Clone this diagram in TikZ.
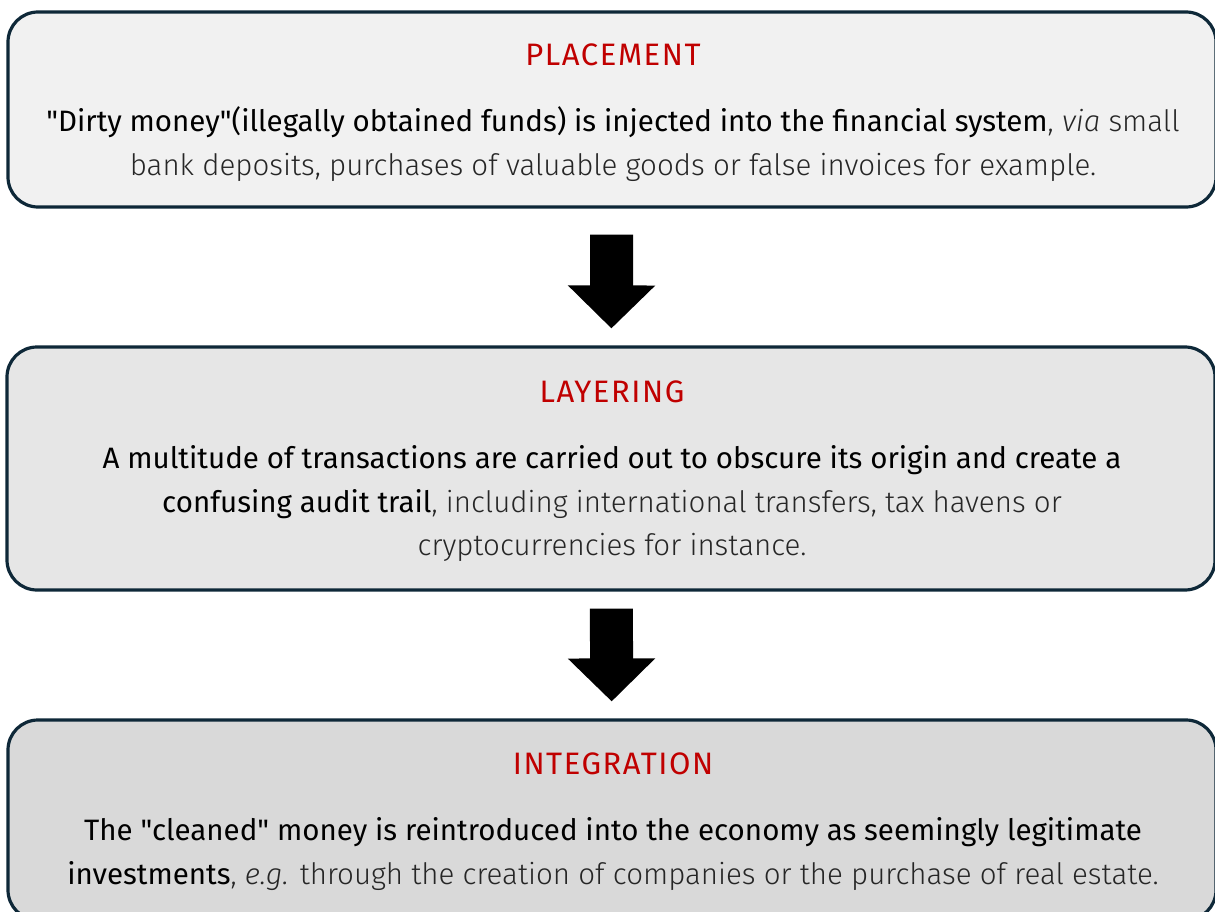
\documentclass[tikz,border=0pt]{standalone}
\usepackage{fontspec}
\setmainfont{Fira Sans Light}[ItalicFont={Fira Sans Light Italic}, BoldFont={Fira Sans}, Ligatures=TeXOff]
\newfontfamily\titlefont{Fira Sans}[LetterSpace=5, Ligatures=TeXOff]
\usetikzlibrary{arrows.meta}

\definecolor{navy}{HTML}{0E2838}
\definecolor{stagered}{HTML}{C00000}
\definecolor{bodygrey}{HTML}{262626}
\definecolor{fillA}{HTML}{F1F1F1}
\definecolor{fillB}{HTML}{E6E6E6}
\definecolor{fillC}{HTML}{D9D9D9}
\newcommand{\keytext}[1]{{\color{black}\bfseries #1}}

\begin{document}
\begin{tikzpicture}[x=1pt,y=-1pt,
    stage/.style={draw=navy,line width=3.2pt,rounded corners=30pt,minimum width=1208pt},
    title/.style={anchor=base,text=stagered,font=\titlefont\fontsize{31}{36}\selectfont},
    body/.style={align=center,text=bodygrey,font=\fontsize{29.5}{43.5}\selectfont},
    bigarrow/.style={line width=43pt,-{Triangle[length=43pt,width=85pt]}}]
    \useasboundingbox (0,0) rectangle (1215,912);
    % the three stages
    \node[stage,fill=fillA,minimum height=195pt] (placement) at (612,109.5) {};
    \node[stage,fill=fillB,minimum height=243pt] (layering) at (611,468.5) {};
    \node[stage,fill=fillC,minimum height=200pt] (integration) at (612,820) {};
    \node[title] (placementtitle) at (613,66) {PLACEMENT};
    \node[title] (layeringtitle) at (612,402) {LAYERING};
    \node[title] (integrationtitle) at (613,774) {INTEGRATION};
    \node[body] (placementtext) at (613,144) {\keytext{"Dirty money"(illegally obtained funds) is injected into the financial system}, \textit{via} small\\bank deposits, purchases of valuable goods or false invoices for example.};
    \node[body] (layeringtext) at (612,504) {\keytext{A multitude of transactions are carried out to obscure its origin and create a}\\\keytext{confusing audit trail}, including international transfers, tax havens or\\cryptocurrencies for instance.};
    \node[body] (integrationtext) at (613,854) {\keytext{The "cleaned" money is reintroduced into the economy as seemingly legitimate}\\\keytext{investments}, \textit{e.g.} through the creation of companies or the purchase of real estate.};
    % arrows between the stages
    \draw[bigarrow,shorten <=26pt,shorten >=17pt] (placement) -- (layering);
    \draw[bigarrow,shorten <=17pt,shorten >=17pt] (layering) -- (integration);
\end{tikzpicture}
\end{document}
